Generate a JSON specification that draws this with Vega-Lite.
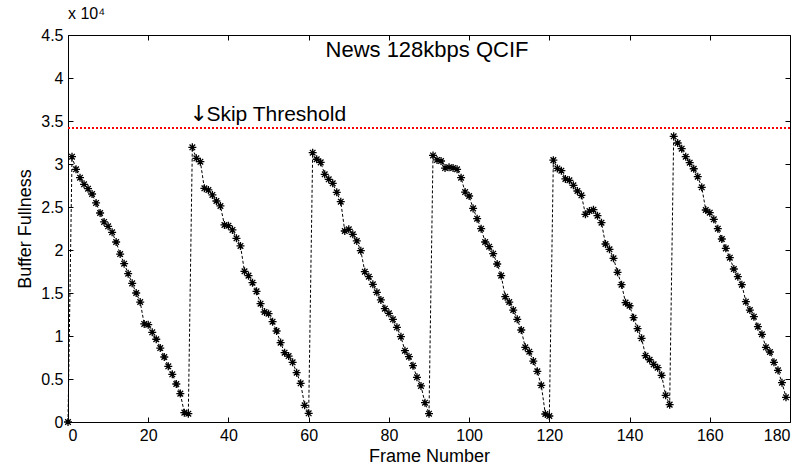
{
  "$schema": "https://vega.github.io/schema/vega-lite/v6.json",
  "width": 722,
  "height": 387,
  "autosize": {"type": "none"},
  "padding": {"left": 68, "top": 35, "right": 16, "bottom": 47},
  "background": "white",
  "config": {
    "font": "Liberation Sans",
    "view": {"stroke": null},
    "axis": {
      "grid": false,
      "domainColor": "#000",
      "tickColor": "#000",
      "labelColor": "#000",
      "titleColor": "#000",
      "labelFont": "Liberation Sans",
      "titleFont": "Liberation Sans",
      "labelFontSize": 16,
      "titleFontSize": 18,
      "titleFontWeight": "normal",
      "tickSize": -5,
      "domainWidth": 1,
      "tickWidth": 1
    }
  },
  "title": {"text": "x 10⁴", "anchor": "start", "frame": "group", "fontSize": 16, "fontWeight": "normal", "offset": 5, "font": "Liberation Sans", "color": "#000"},
  "datasets": {
    "buffer": [
      {"frame": 0, "value": 0}, {"frame": 1, "value": 30850}, {"frame": 2, "value": 29380}, {"frame": 3, "value": 28410}, {"frame": 4, "value": 27640},
      {"frame": 5, "value": 27130}, {"frame": 6, "value": 26510}, {"frame": 7, "value": 25470}, {"frame": 8, "value": 24300}, {"frame": 9, "value": 23260},
      {"frame": 10, "value": 22750}, {"frame": 11, "value": 22060}, {"frame": 12, "value": 20930}, {"frame": 13, "value": 19530}, {"frame": 14, "value": 18410},
      {"frame": 15, "value": 17250}, {"frame": 16, "value": 16120}, {"frame": 17, "value": 15000}, {"frame": 18, "value": 13950}, {"frame": 19, "value": 11400},
      {"frame": 20, "value": 11320}, {"frame": 21, "value": 10430}, {"frame": 22, "value": 9620}, {"frame": 23, "value": 8600}, {"frame": 24, "value": 7560},
      {"frame": 25, "value": 6470}, {"frame": 26, "value": 5540}, {"frame": 27, "value": 4420}, {"frame": 28, "value": 3300}, {"frame": 29, "value": 1090},
      {"frame": 30, "value": 970}, {"frame": 31, "value": 31940}, {"frame": 32, "value": 30660}, {"frame": 33, "value": 30270}, {"frame": 34, "value": 27170},
      {"frame": 35, "value": 26980}, {"frame": 36, "value": 26400}, {"frame": 37, "value": 25700}, {"frame": 38, "value": 25120}, {"frame": 39, "value": 22910},
      {"frame": 40, "value": 22830}, {"frame": 41, "value": 22330}, {"frame": 42, "value": 21360}, {"frame": 43, "value": 20470}, {"frame": 44, "value": 17520},
      {"frame": 45, "value": 17020}, {"frame": 46, "value": 16200}, {"frame": 47, "value": 15190}, {"frame": 48, "value": 13760}, {"frame": 49, "value": 12790},
      {"frame": 50, "value": 12600}, {"frame": 51, "value": 11670}, {"frame": 52, "value": 10580}, {"frame": 53, "value": 9230}, {"frame": 54, "value": 8060},
      {"frame": 55, "value": 7670}, {"frame": 56, "value": 6940}, {"frame": 57, "value": 5740}, {"frame": 58, "value": 4500}, {"frame": 59, "value": 1940},
      {"frame": 60, "value": 1010}, {"frame": 61, "value": 31320}, {"frame": 62, "value": 30550}, {"frame": 63, "value": 30190}, {"frame": 64, "value": 28800},
      {"frame": 65, "value": 28220}, {"frame": 66, "value": 27750}, {"frame": 67, "value": 26710}, {"frame": 68, "value": 25620}, {"frame": 69, "value": 22210},
      {"frame": 70, "value": 22400}, {"frame": 71, "value": 21820}, {"frame": 72, "value": 21050}, {"frame": 73, "value": 19920}, {"frame": 74, "value": 17480},
      {"frame": 75, "value": 16900}, {"frame": 76, "value": 16010}, {"frame": 77, "value": 15080}, {"frame": 78, "value": 14190}, {"frame": 79, "value": 13180},
      {"frame": 80, "value": 12640}, {"frame": 81, "value": 11940}, {"frame": 82, "value": 11010}, {"frame": 83, "value": 9920}, {"frame": 84, "value": 8290},
      {"frame": 85, "value": 7600}, {"frame": 86, "value": 6550}, {"frame": 87, "value": 5200}, {"frame": 88, "value": 4190}, {"frame": 89, "value": 2250},
      {"frame": 90, "value": 970}, {"frame": 91, "value": 31000}, {"frame": 92, "value": 30470}, {"frame": 93, "value": 30350}, {"frame": 94, "value": 29530},
      {"frame": 95, "value": 29610}, {"frame": 96, "value": 29530}, {"frame": 97, "value": 29380}, {"frame": 98, "value": 28410}, {"frame": 99, "value": 26740},
      {"frame": 100, "value": 26280}, {"frame": 101, "value": 24840}, {"frame": 102, "value": 23640}, {"frame": 103, "value": 22480}, {"frame": 104, "value": 20930},
      {"frame": 105, "value": 20390}, {"frame": 106, "value": 19570}, {"frame": 107, "value": 18370}, {"frame": 108, "value": 17020}, {"frame": 109, "value": 14570},
      {"frame": 110, "value": 13950}, {"frame": 111, "value": 13020}, {"frame": 112, "value": 11940}, {"frame": 113, "value": 10700}, {"frame": 114, "value": 8680},
      {"frame": 115, "value": 8180}, {"frame": 116, "value": 7090}, {"frame": 117, "value": 5890}, {"frame": 118, "value": 4260}, {"frame": 119, "value": 930},
      {"frame": 120, "value": 700}, {"frame": 121, "value": 30450}, {"frame": 122, "value": 29490}, {"frame": 123, "value": 29220}, {"frame": 124, "value": 28260},
      {"frame": 125, "value": 28100}, {"frame": 126, "value": 27520}, {"frame": 127, "value": 26860}, {"frame": 128, "value": 26360}, {"frame": 129, "value": 24150},
      {"frame": 130, "value": 24530}, {"frame": 131, "value": 24690}, {"frame": 132, "value": 23990}, {"frame": 133, "value": 23180}, {"frame": 134, "value": 20700},
      {"frame": 135, "value": 20080}, {"frame": 136, "value": 19030}, {"frame": 137, "value": 17400}, {"frame": 138, "value": 15970}, {"frame": 139, "value": 13880},
      {"frame": 140, "value": 13520}, {"frame": 141, "value": 12130}, {"frame": 142, "value": 10850}, {"frame": 143, "value": 9730}, {"frame": 144, "value": 7710},
      {"frame": 145, "value": 7240}, {"frame": 146, "value": 6700}, {"frame": 147, "value": 6320}, {"frame": 148, "value": 5430}, {"frame": 149, "value": 3100},
      {"frame": 150, "value": 2020}, {"frame": 151, "value": 33220}, {"frame": 152, "value": 32440}, {"frame": 153, "value": 31780}, {"frame": 154, "value": 30850},
      {"frame": 155, "value": 30150}, {"frame": 156, "value": 29450}, {"frame": 157, "value": 28530}, {"frame": 158, "value": 27290}, {"frame": 159, "value": 24650},
      {"frame": 160, "value": 24340}, {"frame": 161, "value": 23570}, {"frame": 162, "value": 22480}, {"frame": 163, "value": 21280}, {"frame": 164, "value": 20190},
      {"frame": 165, "value": 19110}, {"frame": 166, "value": 17790}, {"frame": 167, "value": 16900}, {"frame": 168, "value": 15970}, {"frame": 169, "value": 13990},
      {"frame": 170, "value": 13020}, {"frame": 171, "value": 12250}, {"frame": 172, "value": 11090}, {"frame": 173, "value": 10200}, {"frame": 174, "value": 8680},
      {"frame": 175, "value": 8140}, {"frame": 176, "value": 6940}, {"frame": 177, "value": 6010}, {"frame": 178, "value": 4570}, {"frame": 179, "value": 2870}
    ],
    "threshold": [{"value": 34200}],
    "plotTitle": [{"frame": 89.5, "value": 43250, "label": "News 128kbps QCIF"}],
    "skipArrow": [{"frame": 30.3, "value": 35800, "label": "↓"}],
    "skipLabel": [{"frame": 34.5, "value": 35700, "label": "Skip Threshold"}]
  },
  "layer": [
    {
      "layer": [
        {
          "data": {"name": "threshold"},
          "mark": {"type": "rule", "color": "#ff0000", "strokeWidth": 2, "strokeDash": [2, 2]},
          "encoding": {
            "y": {"field": "value", "type": "quantitative", "scale": {"domain": [0, 45000], "nice": false, "zero": false}}
          }
        },
        {
          "data": {"name": "buffer"},
          "mark": {"type": "line", "color": "#000", "strokeWidth": 1, "strokeDash": [3, 2]},
          "encoding": {
            "x": {"field": "frame", "type": "quantitative", "title": "Frame Number",
                  "scale": {"domain": [0, 180], "nice": false, "zero": false},
                  "axis": {"values": [0, 20, 40, 60, 80, 100, 120, 140, 160, 180], "labelPadding": 10, "titlePadding": 4}},
            "y": {"field": "value", "type": "quantitative", "title": "Buffer Fullness",
                  "scale": {"domain": [0, 45000], "nice": false, "zero": false},
                  "axis": {"values": [0, 5000, 10000, 15000, 20000, 25000, 30000, 35000, 40000, 45000], "labelExpr": "datum.value / 10000", "labelPadding": 10, "titlePadding": 6}}
          }
        },
        {
          "data": {"name": "buffer"},
          "mark": {"type": "point", "shape": "M-1,0L1,0M0,-1L0,1M-0.7,-0.7L0.7,0.7M-0.7,0.7L0.7,-0.7", "filled": false, "stroke": "#000", "strokeWidth": 1.3, "size": 64, "opacity": 1},
          "encoding": {
            "x": {"field": "frame", "type": "quantitative"},
            "y": {"field": "value", "type": "quantitative"}
          }
        },
        {
          "data": {"name": "plotTitle"},
          "mark": {"type": "text", "fontSize": 22, "font": "Liberation Sans", "color": "#000", "baseline": "middle", "align": "center"},
          "encoding": {
            "x": {"field": "frame", "type": "quantitative"},
            "y": {"field": "value", "type": "quantitative"},
            "text": {"field": "label"}
          }
        },
        {
          "data": {"name": "skipArrow"},
          "mark": {"type": "text", "fontSize": 22, "font": "DejaVu Sans", "color": "#000", "baseline": "middle", "align": "left"},
          "encoding": {
            "x": {"field": "frame", "type": "quantitative"},
            "y": {"field": "value", "type": "quantitative"},
            "text": {"field": "label"}
          }
        },
        {
          "data": {"name": "skipLabel"},
          "mark": {"type": "text", "fontSize": 21, "font": "Liberation Sans", "color": "#000", "baseline": "middle", "align": "left"},
          "encoding": {
            "x": {"field": "frame", "type": "quantitative"},
            "y": {"field": "value", "type": "quantitative"},
            "text": {"field": "label"}
          }
        }
      ]
    },
    {
      "data": {"name": "buffer"},
      "mark": {"type": "point", "opacity": 0},
      "encoding": {
        "x": {"field": "frame", "type": "quantitative", "scale": {"domain": [0, 180], "nice": false, "zero": false},
              "axis": {"orient": "top", "labels": false, "title": null, "values": [0, 20, 40, 60, 80, 100, 120, 140, 160, 180]}},
        "y": {"field": "value", "type": "quantitative", "scale": {"domain": [0, 45000], "nice": false, "zero": false},
              "axis": {"orient": "right", "labels": false, "title": null, "values": [0, 5000, 10000, 15000, 20000, 25000, 30000, 35000, 40000, 45000]}}
      }
    }
  ],
  "resolve": {"axis": {"x": "independent", "y": "independent"}}
}
